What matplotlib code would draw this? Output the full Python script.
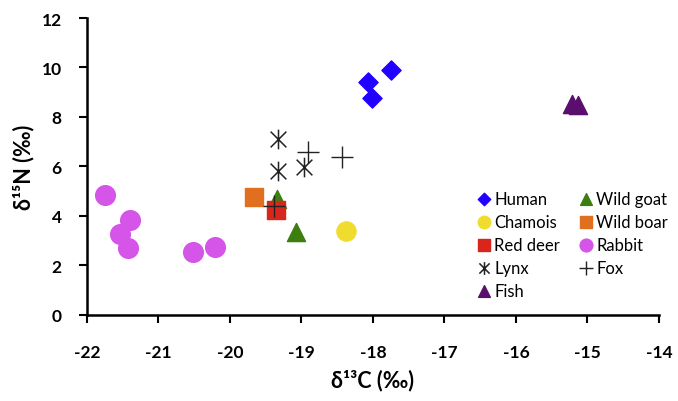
import matplotlib
matplotlib.use("Agg")
import matplotlib.pyplot as plt
from matplotlib.path import Path

plt.rcParams['font.family'] = ['Lato', 'DejaVu Sans']

human_x = [-17.74, -18.07, -18.01]
human_y = [9.88, 9.43, 8.76]
chamois_x = [-18.37]
chamois_y = [3.40]
reddeer_x = [-19.35]
reddeer_y = [4.25]
lynx_x = [-19.33, -19.32, -18.97]
lynx_y = [7.11, 5.83, 5.97]
fish_x = [-15.22, -15.13]
fish_y = [8.53, 8.49]
goat_x = [-19.34, -19.08]
goat_y = [4.68, 3.34]
boar_x = [-19.66]
boar_y = [4.75]
rabbit_x = [-21.74, -21.39, -21.54, -21.42, -20.51, -20.21]
rabbit_y = [4.85, 3.83, 3.27, 2.69, 2.55, 2.75]
fox_x = [-18.91, -18.43, -19.38]
fox_y = [6.57, 6.37, 4.39]

xticks = [-22, -21, -20, -19, -18, -17, -16, -15, -14]
yticks = [0, 2, 4, 6, 8, 10, 12]

star = Path([(0, -1), (0, 1), (-0.8, -0.8), (0.8, 0.8), (-0.8, 0.8), (0.8, -0.8)],
            [Path.MOVETO, Path.LINETO, Path.MOVETO, Path.LINETO, Path.MOVETO, Path.LINETO])

fig = plt.figure(figsize=(6.78, 4.02), dpi=100)
ax = fig.add_axes([0.128, 0.2147, 0.844, 0.738])

h_human = ax.scatter(human_x, human_y, marker='D', s=95, color='#2200FF', label='Human', zorder=3)
h_cham = ax.scatter(chamois_x, chamois_y, marker='o', s=190, color='#F0DC2C', label='Chamois', zorder=3)
h_goat = ax.scatter(goat_x, goat_y, marker='^', s=170, color='#3C7F10', label='Wild goat', zorder=3)
h_boar = ax.scatter(boar_x, boar_y, marker='s', s=150, color='#E0701F', label='Wild boar', zorder=3)
h_deer = ax.scatter(reddeer_x, reddeer_y, marker='s', s=150, color='#D8261C', label='Red deer', zorder=4)
h_rab = ax.scatter(rabbit_x, rabbit_y, marker='o', s=200, color='#D455E8', label='Rabbit', zorder=3)
h_fish = ax.scatter(fish_x, fish_y, marker='^', s=170, color='#5A0F6E', label='Fish', zorder=3)
h_lynx = ax.scatter(lynx_x, lynx_y, marker=star, s=200, color='#222222', linewidths=1.1, label='Lynx', zorder=5)
h_fox = ax.scatter(fox_x, fox_y, marker='+', s=240, color='#222222', linewidths=1.0, label='Fox', zorder=6)

ax.set_xlim(-22, -14)
ax.set_ylim(0, 12)
ax.set_xticks(xticks)
ax.set_yticks(yticks)
ax.set_xticklabels([str(v) for v in xticks], fontweight='bold', fontsize=12.5)
ax.set_yticklabels([str(v) for v in yticks], fontweight='bold', fontsize=12.5)
for s in ['top', 'right']:
    ax.spines[s].set_visible(False)
for s in ['left', 'bottom']:
    ax.spines[s].set_linewidth(1.8)
ax.tick_params(axis='x', direction='out', length=6, width=1.5, pad=15)
ax.tick_params(axis='y', direction='out', length=6, width=1.5, pad=12)

ax.set_xlabel('δ¹³C (‰)', fontweight='bold', fontsize=15.5, labelpad=6)
ax.set_ylabel('δ¹⁵N (‰)', fontweight='bold', fontsize=15.5, labelpad=5)

handles = [h_human, h_cham, h_deer, h_lynx, h_fish, h_goat, h_boar, h_rab, h_fox]
leg = ax.legend(handles=handles, ncol=2, loc='upper left', bbox_to_anchor=(0.668, 0.44),
                frameon=False, fontsize=12, handletextpad=0.1, handlelength=1.0,
                columnspacing=1.1, labelspacing=0.42, markerscale=0.65, borderaxespad=0)

fig.savefig('out.png', dpi=100)
